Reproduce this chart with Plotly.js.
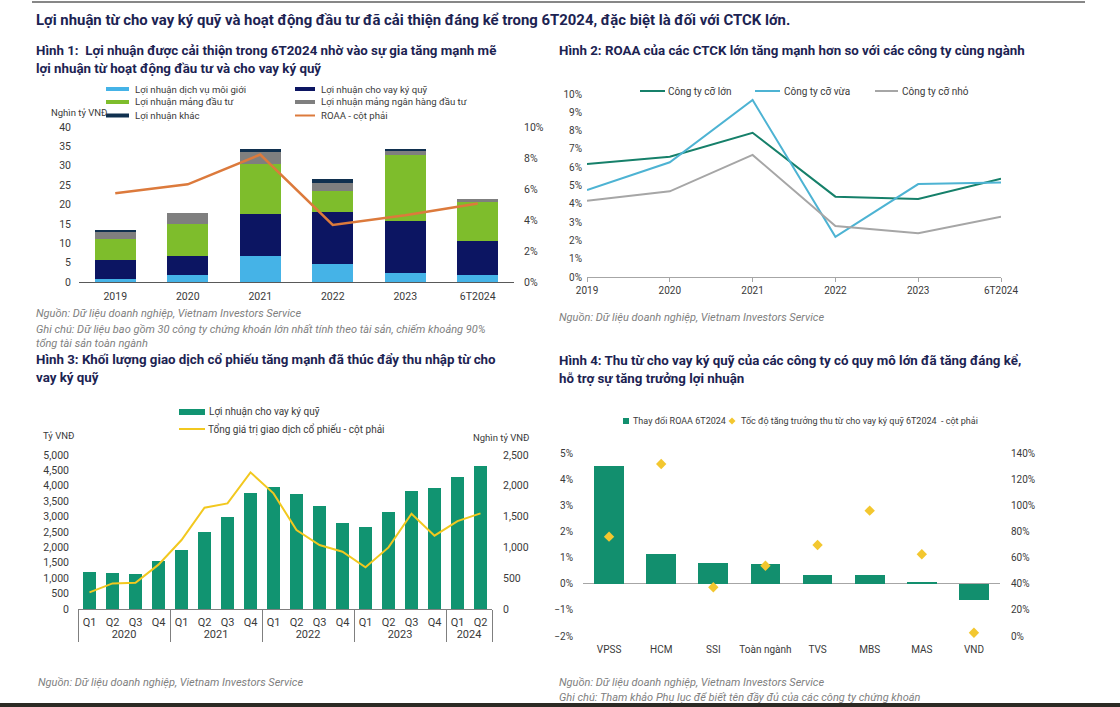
<!DOCTYPE html>
<html><head><meta charset="utf-8">
<script src="https://cdn.plot.ly/plotly-3.0.1.min.js"></script>
<style>html,body{margin:0;padding:0;background:#fff}#chart{width:1120px;height:707px}</style>
</head><body><div id="chart"></div>
<script>
const W = 1120, H = 707;
const px = x => x / W, py = y => 1 - y / H;

// ---------- Hình 1 data ----------
const years1 = ['2019', '2020', '2021', '2022', '2023', '6T2024'];
const names1 = ['Lợi nhuận dịch vụ môi giới', 'Lợi nhuận cho vay ký quỹ', 'Lợi nhuận mảng đầu tư',
  'Lợi nhuận mảng ngân hàng đầu tư', 'Lợi nhuận khác', 'ROAA - cột phải'];
const brokerage = [0.8, 1.7, 6.6, 4.55, 2.4, 1.8];
const marginLending = [4.8, 4.9, 10.95, 13.6, 13.45, 8.8];
const investment = [5.45, 8.4, 12.85, 5.4, 16.95, 10.0];
const investBanking = [1.95, 2.7, 3.2, 2.05, 0.95, 0.7];
const otherProfit = [0.3, 0.2, 0.75, 1.1, 0.6, 0.1];
const roaa1 = [5.72, 6.3, 8.22, 3.68, 4.3, 5.07];

// ---------- Hình 2 data ----------
const years2 = ['2019', '2020', '2021', '2022', '2023', '6T2024'];
const names2 = ['Công ty cỡ lớn', 'Công ty cỡ vừa', 'Công ty cỡ nhỏ'];
const roaaLarge = [6.17, 6.57, 7.88, 4.39, 4.26, 5.37];
const roaaMedium = [4.75, 6.27, 9.67, 2.2, 5.08, 5.17];
const roaaSmall = [4.17, 4.68, 6.67, 2.79, 2.39, 3.3];

// ---------- Hình 3 data ----------
const qYears = ['2020', '2020', '2020', '2020', '2021', '2021', '2021', '2021', '2022', '2022', '2022', '2022',
  '2023', '2023', '2023', '2023', '2024', '2024'];
const qQuarters = ['Q1', 'Q2', 'Q3', 'Q4', 'Q1', 'Q2', 'Q3', 'Q4', 'Q1', 'Q2', 'Q3', 'Q4',
  'Q1', 'Q2', 'Q3', 'Q4', 'Q1', 'Q2'];
const names3 = ['Lợi nhuận cho vay ký quỹ', 'Tổng giá trị giao dịch cổ phiếu - cột phải'];
const marginProfitQ = [1200, 1160, 1150, 1550, 1900, 2500, 3000, 3770, 3970, 3720, 3330, 2800,
  2660, 3150, 3820, 3930, 4300, 4640];
const tradingValueQ = [270, 415, 425, 720, 1120, 1645, 1715, 2218, 1877, 1282, 1039, 930,
  677, 1000, 1547, 1190, 1428, 1553];

// ---------- Hình 4 data ----------
const companies = ['VPSS', 'HCM', 'SSI', 'Toàn ngành', 'TVS', 'MBS', 'MAS', 'VND'];
const names4 = ['Thay đổi ROAA 6T2024', 'Tốc độ tăng trưởng thu từ cho vay ký quỹ 6T2024  - cột phải'];
const roaaChange = [4.51, 1.12, 0.79, 0.77, 0.35, 0.32, 0.08, -0.63];
const marginGrowth = [76, 131.6, 37.3, 53.8, 69.6, 95.9, 62.5, 2.5];

// ---------- colours ----------
const C = {
  navyTitle: '#1c2352', lightBlue: '#45b3e7', navy: '#0c1562', green: '#7ebd2c', grey: '#7f7f7f',
  other: '#10304f', orange: '#dc7a3c', teal: '#16806a', sky: '#4db3d3', silver: '#a6a6a6',
  bar3: '#119471', yellow: '#f2c81f', bar4: '#128f6e', diamond: '#f3c72f', tick: '#3a3a3a', src: '#808080'
};
const FONT = 'Roboto, "Noto Sans", sans-serif';

const traces = [
  // Hình 1
  {type: 'bar', x: years1, y: brokerage, name: names1[0], marker: {color: C.lightBlue}, xaxis: 'x', yaxis: 'y', width: 0.56},
  {type: 'bar', x: years1, y: marginLending, name: names1[1], marker: {color: C.navy}, xaxis: 'x', yaxis: 'y', width: 0.56},
  {type: 'bar', x: years1, y: investment, name: names1[2], marker: {color: C.green}, xaxis: 'x', yaxis: 'y', width: 0.56},
  {type: 'bar', x: years1, y: investBanking, name: names1[3], marker: {color: C.grey}, xaxis: 'x', yaxis: 'y', width: 0.56},
  {type: 'bar', x: years1, y: otherProfit, name: names1[4], marker: {color: C.other}, xaxis: 'x', yaxis: 'y', width: 0.56},
  {type: 'scatter', mode: 'lines', x: years1, y: roaa1, name: names1[5], line: {color: C.orange, width: 2.5}, xaxis: 'x', yaxis: 'y2'},
  // Hình 2
  {type: 'scatter', mode: 'lines', x: years2, y: roaaLarge, name: names2[0], line: {color: C.teal, width: 2}, xaxis: 'x2', yaxis: 'y3'},
  {type: 'scatter', mode: 'lines', x: years2, y: roaaMedium, name: names2[1], line: {color: C.sky, width: 2}, xaxis: 'x2', yaxis: 'y3'},
  {type: 'scatter', mode: 'lines', x: years2, y: roaaSmall, name: names2[2], line: {color: C.silver, width: 2}, xaxis: 'x2', yaxis: 'y3'},
  // Hình 3
  {type: 'bar', x: [qYears, qQuarters], y: marginProfitQ, name: names3[0], marker: {color: C.bar3}, xaxis: 'x3', yaxis: 'y4', width: 0.58},
  {type: 'scatter', mode: 'lines', x: [qYears, qQuarters], y: tradingValueQ, name: names3[1], line: {color: C.yellow, width: 2}, xaxis: 'x3', yaxis: 'y5'},
  // Hình 4
  {type: 'bar', x: companies, y: roaaChange, name: names4[0], marker: {color: C.bar4}, xaxis: 'x4', yaxis: 'y6', width: 0.57},
  {type: 'scatter', mode: 'markers', x: companies, y: marginGrowth, name: names4[1], marker: {symbol: 'diamond', size: 8, color: C.diamond}, xaxis: 'x4', yaxis: 'y7', cliponaxis: false}
];

const tickFont = {family: FONT, size: 10.5, color: C.tick};
const baseAxis = {showgrid: false, zeroline: false, fixedrange: true, tickfont: tickFont};

function txt(text, x, y, o = {}) {
  return Object.assign({
    text: text, x: px(x), y: py(y), xref: 'paper', yref: 'paper', xanchor: 'left', yanchor: 'middle',
    showarrow: false, font: {family: FONT, size: o.size || 10, color: o.color || C.tick}
  }, o.extra || {});
}
const titleFont = {size: 13.3, color: C.navyTitle};
function title(text, x, y) {
  return txt('<b>' + text + '</b>', x, y, titleFont);
}
function src(text, x, y) {
  return txt('<i>' + text + '</i>', x, y, {size: 11, color: C.src});
}
function rect(x0, x1, y0, y1, color) {
  return {type: 'rect', xref: 'paper', yref: 'paper', x0: px(x0), x1: px(x1), y0: py(y1), y1: py(y0), fillcolor: color, line: {width: 0}};
}
function hline(x0, x1, y, color, w) {
  return {type: 'line', xref: 'paper', yref: 'paper', x0: px(x0), x1: px(x1), y0: py(y), y1: py(y), line: {color: color, width: w}};
}

const annotations = [
  txt('<b>Lợi nhuận từ cho vay ký quỹ và hoạt động đầu tư đã cải thiện đáng kể trong 6T2024, đặc biệt là đối với CTCK lớn.</b>', 34, 20, {size: 14.9, color: C.navyTitle}),
  // Hình 1
  title('Hình 1:  Lợi nhuận được cải thiện trong 6T2024 nhờ vào sự gia tăng mạnh mẽ', 34, 50),
  title('lợi nhuận từ hoạt động đầu tư và cho vay ký quỹ', 34, 68),
  txt(names1[0], 133, 89, {size: 9.6}), txt(names1[2], 133, 102, {size: 9.6}), txt(names1[4], 133, 115.5, {size: 9.6}),
  txt(names1[1], 319, 89, {size: 9.6}), txt(names1[3], 319, 102, {size: 9.6}), txt(names1[5], 319, 115.5, {size: 9.6}),
  txt('Nghìn tỷ VNĐ', 49, 113, {size: 9.5}),
  src('Nguồn: Dữ liệu doanh nghiệp, Vietnam Investors Service', 34, 313),
  src('Ghi chú: Dữ liệu bao gồm 30 công ty chứng khoán lớn nhất tính theo tài sản, chiếm khoảng 90%', 34, 329),
  src('tổng tài sản toàn ngành', 34, 343),
  // Hình 2
  title('Hình 2: ROAA của các CTCK lớn tăng mạnh hơn so với các công ty cùng ngành', 557, 50),
  txt(names2[0], 666, 91), txt(names2[1], 782, 91), txt(names2[2], 900, 91),
  src('Nguồn: Dữ liệu doanh nghiệp, Vietnam Investors Service', 557, 317),
  // Hình 3
  title('Hình 3: Khối lượng giao dịch cổ phiếu tăng mạnh đã thúc đẩy thu nhập từ cho', 34, 359),
  title('vay ký quỹ', 34, 377),
  txt(names3[0], 207, 412), txt(names3[1], 206, 429),
  txt('Tỷ VNĐ', 41, 435, {size: 9.5}),
  txt('Nghìn tỷ VNĐ', 471, 437, {size: 9.5}),
  src('Nguồn: Dữ liệu doanh nghiệp, Vietnam Investors Service', 36, 682),
  // Hình 4
  title('Hình 4: Thu từ cho vay ký quỹ của các công ty có quy mô lớn đã tăng đáng kể,', 557, 360),
  title('hỗ trợ sự tăng trưởng lợi nhuận', 557, 378),
  txt(names4[0], 631, 421, {size: 9}), txt(names4[1], 739, 421, {size: 9}),
  src('Nguồn: Dữ liệu doanh nghiệp, Vietnam Investors Service', 557, 682),
  src('Ghi chú: Tham khảo Phụ lục để biết tên đầy đủ của các công ty chứng khoán', 557, 697)
];

const shapes = [
  hline(32, 1085, 2, '#111', 1.2),
  {type: 'rect', xref: 'paper', yref: 'paper', x0: 0, x1: 1, y0: 0, y1: py(703), fillcolor: '#2b2a24', line: {width: 0}},
  // legend Hình 1
  rect(106, 129, 87, 91, C.lightBlue), rect(106, 129, 100, 104, C.green), rect(106, 129, 113.5, 117.5, C.other),
  rect(295, 315, 87, 91, C.navy), rect(295, 315, 100, 104, C.grey), hline(295, 315, 115.5, C.orange, 2),
  // legend Hình 2
  hline(640, 665, 91, C.teal, 2), hline(755, 780, 91, C.sky, 2), hline(875, 898, 91, C.silver, 2),
  // legend Hình 3
  rect(179, 205, 409, 415, C.bar3), hline(179, 205, 429, C.yellow, 2),
  // legend Hình 4
  rect(623, 629, 418, 424, C.bar4),
  {type: 'path', xref: 'paper', yref: 'paper', path: `M ${px(732)} ${py(417.5)} L ${px(735.5)} ${py(421)} L ${px(732)} ${py(424.5)} L ${px(728.5)} ${py(421)} Z`, fillcolor: C.diamond, line: {width: 0}}
];

const layout = {
  width: W, height: H, margin: {l: 0, r: 0, t: 0, b: 0}, paper_bgcolor: '#fff', plot_bgcolor: 'rgba(0,0,0,0)',
  showlegend: false, barmode: 'stack', hovermode: false, font: {family: FONT},
  // Hình 1
  xaxis: Object.assign({}, baseAxis, {domain: [px(79), px(514)], anchor: 'y', type: 'category', showline: true, linecolor: '#595959', linewidth: 1, ticks: '', ticklabelstandoff: 4}),
  yaxis: Object.assign({}, baseAxis, {domain: [py(282), py(127)], anchor: 'x', range: [0, 40], dtick: 5, ticks: '', ticklabelstandoff: 7}),
  yaxis2: Object.assign({}, baseAxis, {overlaying: 'y', anchor: 'x', side: 'right', range: [0, 10], dtick: 2, ticksuffix: '%', ticks: '', ticklabelstandoff: 9}),
  // Hình 2
  xaxis2: Object.assign({}, baseAxis, {domain: [px(587), px(1001)], anchor: 'y3', type: 'category', range: [0, 5], showline: true, linecolor: '#a6a6a6', ticks: 'outside', ticklen: 4, tickcolor: '#a6a6a6', tickfont: {family: FONT, size: 10, color: C.tick}}),
  yaxis3: Object.assign({}, baseAxis, {domain: [py(277), py(94)], anchor: 'x2', range: [0, 10], dtick: 1, ticksuffix: '%', ticks: '', ticklabelstandoff: 4, tickfont: {family: FONT, size: 10, color: C.tick}}),
  // Hình 3
  xaxis3: Object.assign({}, baseAxis, {domain: [px(78), px(492)], anchor: 'y4', type: 'multicategory', showline: true, linecolor: '#7f7f7f', ticks: '', ticklabelstandoff: 3, showdividers: true, dividercolor: '#7f7f7f', dividerwidth: 1, tickfont: {family: FONT, size: 11, color: C.tick}}),
  yaxis4: Object.assign({}, baseAxis, {domain: [py(609), py(455)], anchor: 'x3', range: [0, 5000], dtick: 500, tickformat: ',', ticks: '', ticklabelstandoff: 8}),
  yaxis5: Object.assign({}, baseAxis, {overlaying: 'y4', anchor: 'x3', side: 'right', range: [0, 2500], dtick: 500, tickformat: ',', ticks: '', ticklabelstandoff: 10}),
  // Hình 4
  xaxis4: Object.assign({}, baseAxis, {domain: [px(583), px(1000)], anchor: 'y6', type: 'category', showline: false, ticks: '', ticklabelstandoff: 6, tickfont: {family: FONT, size: 10, color: C.tick}}),
  yaxis6: Object.assign({}, baseAxis, {domain: [py(636), py(453)], anchor: 'x4', range: [-2, 5], dtick: 1, ticksuffix: '%', zeroline: true, zerolinecolor: '#a6a6a6', zerolinewidth: 1.5, ticks: '', ticklabelstandoff: 9, tickfont: {family: FONT, size: 10, color: C.tick}}),
  yaxis7: Object.assign({}, baseAxis, {overlaying: 'y6', anchor: 'x4', side: 'right', range: [0, 140], dtick: 20, ticksuffix: '%', ticks: '', ticklabelstandoff: 10, tickfont: {family: FONT, size: 10, color: C.tick}}),
  annotations: annotations,
  shapes: shapes
};

Plotly.newPlot('chart', traces, layout, {staticPlot: true, displayModeBar: false});
</script>
</body></html>
